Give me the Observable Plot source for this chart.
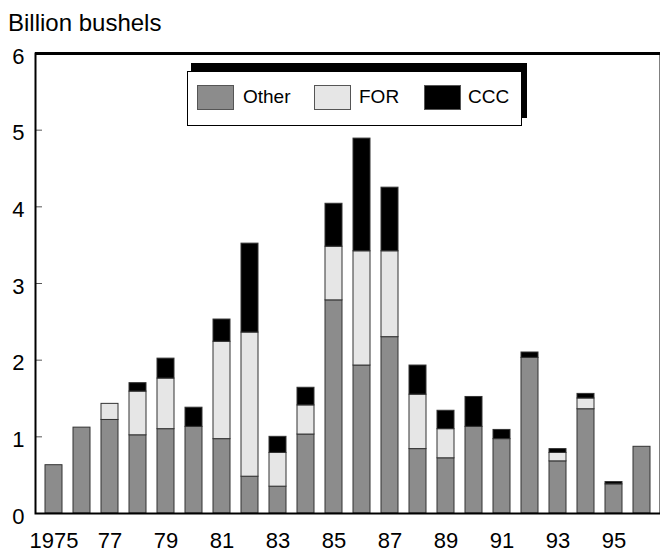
<!DOCTYPE html>
<html><head><meta charset="utf-8">
<script src="https://cdn.jsdelivr.net/npm/d3@7"></script>
<script src="https://cdn.jsdelivr.net/npm/@observablehq/plot@0.6"></script>
<style>
body{margin:0;background:#fff;font-family:"Liberation Sans",Arial,Helvetica,sans-serif;}
#wrap{position:relative;width:660px;height:552px;overflow:hidden;}
#wrap svg{position:absolute;left:0;top:0;}
#title{position:absolute;left:8px;top:9px;font-size:24px;color:#000;white-space:nowrap;}
#shadow{position:absolute;left:191px;top:63px;width:336px;height:55px;background:#000;}
#legend{position:absolute;left:187px;top:71px;width:333px;height:53px;background:#fff;border:1px solid #000;}
.sw{position:absolute;top:13px;width:35px;height:23px;border:1px solid #555;}
.lt{position:absolute;top:14px;font-size:19px;line-height:22px;color:#000;}
</style></head><body>
<div id="wrap">
  <div id="title">Billion bushels</div>
</div>
<script>
const years = ["1975","1976","1977","1978","1979","1980","1981","1982","1983","1984","1985","1986","1987","1988","1989","1990","1991","1992","1993","1994","1995","1996"];
const other = [0.63,1.12,1.22,1.02,1.10,1.13,0.97,0.48,0.35,1.03,2.78,1.93,2.30,0.84,0.72,1.13,0.97,2.03,0.68,1.36,0.38,0.87];
const forValues = [0,0,0.21,0.57,0.66,0,1.27,1.88,0.44,0.38,0.70,1.49,1.12,0.71,0.38,0,0,0,0.11,0.14,0,0];
const ccc = [0,0,0,0.11,0.26,0.25,0.29,1.16,0.21,0.23,0.56,1.47,0.83,0.38,0.24,0.39,0.12,0.07,0.05,0.06,0.03,0];
const seriesNames = ["Other","FOR","CCC"];
const seriesColors = ["#8c8c8c","#e6e6e6","#000000"];
const xTickYears = ["1975","1977","1979","1981","1983","1985","1987","1989","1991","1993","1995"];
const yTicks = [0,1,2,3,4,5,6];
const innerTicks = [1,2,3,4,5];

const seriesValues = [other, forValues, ccc];
const rows = [];
seriesNames.forEach((s, si) => {
  years.forEach((y, i) => {
    const v = seriesValues[si][i];
    if (v > 0) rows.push({year: y, series: s, value: v});
  });
});

const W = 660, H = 552, mL = 35, mR = 0, mT = 53, mB = 39;

const chart = Plot.plot({
  width: W, height: H,
  marginLeft: mL, marginRight: mR, marginTop: mT, marginBottom: mB,
  style: {fontFamily: "'Liberation Sans', Arial, Helvetica, sans-serif", background: "#fff", color: "#000"},
  x: {domain: years, paddingInner: 0.4, paddingOuter: 0.21, align: 0.5},
  y: {domain: [0, 6]},
  color: {domain: seriesNames, range: seriesColors},
  marks: [
    Plot.barY(rows, {x: "year", y: "value", fill: "series", order: seriesNames, stroke: "#333", strokeWidth: 1}),
    Plot.ruleY(innerTicks, {stroke: "#555", strokeWidth: 1, insetRight: (W - mL - mR) - 7}),
    Plot.frame({stroke: "#000", strokeWidth: 2}),
    Plot.ruleY([6], {stroke: "#000", strokeWidth: 3}),
    Plot.axisX({ticks: xTickYears, tickSize: 0, tickPadding: 19, fontSize: 22, label: null,
      tickFormat: d => d === "1975" ? d : d.slice(2)}),
    Plot.axisY({ticks: yTicks, tickSize: 0, tickPadding: 11, fontSize: 22, dy: 3, label: null,
      tickFormat: d => String(d)})
  ]
});
const wrap = document.getElementById("wrap");
wrap.insertBefore(chart, wrap.firstChild);

// legend
const shadow = document.createElement("div"); shadow.id = "shadow"; wrap.appendChild(shadow);
const legend = document.createElement("div"); legend.id = "legend"; wrap.appendChild(legend);
const swX = [9, 126, 236];
const txX = [55, 171, 280];
seriesNames.forEach((s, i) => {
  const sw = document.createElement("div");
  sw.className = "sw"; sw.style.left = swX[i] + "px"; sw.style.background = seriesColors[i];
  legend.appendChild(sw);
  const t = document.createElement("div");
  t.className = "lt"; t.style.left = txX[i] + "px"; t.textContent = s;
  legend.appendChild(t);
});
</script>
</body></html>
